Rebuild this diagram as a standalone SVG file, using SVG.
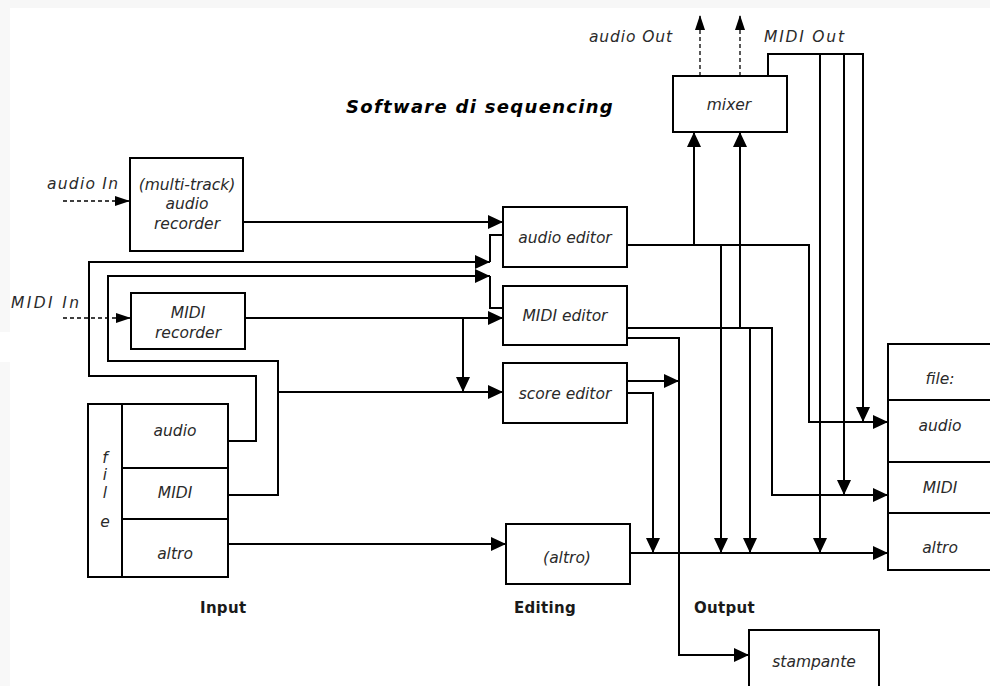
<svg xmlns="http://www.w3.org/2000/svg" width="990" height="686" viewBox="0 0 990 686">
  <style>
    .box { fill: #fff; stroke: #000; stroke-width: 2; }
    .div { stroke: #000; stroke-width: 2; fill: none; }
    .wire { stroke: #000; stroke-width: 2; fill: none; }
    .dash { stroke: #000; stroke-width: 1.3; fill: none; stroke-dasharray: 4 3; }
    .lbl { font-family: "DejaVu Sans", Verdana, sans-serif; font-style: italic; font-size: 15.5px; fill: #2a2a2a; }
    .lblc { text-anchor: middle; }
    .sec { font-family: "DejaVu Sans", Verdana, sans-serif; font-weight: bold; font-size: 15px; letter-spacing: 0.3px; fill: #1a1a1a; }
    .title { font-family: "DejaVu Sans", Verdana, sans-serif; font-weight: bold; font-style: italic; font-size: 18px; letter-spacing: 1.3px; fill: #000; }
  </style>
  <defs>
    <marker id="arr" markerUnits="userSpaceOnUse" markerWidth="15" markerHeight="14" refX="15" refY="7" orient="auto">
      <path d="M0,0 L15,7 L0,14 Z" fill="#000"/>
    </marker>
    <marker id="arrS" markerUnits="userSpaceOnUse" markerWidth="15" markerHeight="10" refX="15" refY="5" orient="auto">
      <path d="M0,0 L15,5 L0,10 Z" fill="#000"/>
    </marker>
  </defs>

  <!-- page background with faint outer band -->
  <rect x="0" y="0" width="990" height="686" fill="#fff"/>
  <rect x="0" y="0" width="990" height="8" fill="#f7f7f7"/>
  <rect x="0" y="0" width="10" height="332" fill="#f8f8f8"/>
  <rect x="0" y="362" width="10" height="324" fill="#f8f8f8"/>

  <text class="title" x="346" y="113">Software di sequencing</text>

  <!-- connectors -->
  <g id="connectors">
    <!-- external inputs -->
    <path class="dash" d="M63,201 H130" marker-end="url(#arrS)"/>
    <path class="dash" d="M63,318 H131" marker-end="url(#arrS)"/>
    <!-- recorders to editors -->
    <path class="wire" d="M243,222 H503" marker-end="url(#arr)"/>
    <path class="wire" d="M245,318 H503" marker-end="url(#arr)"/>
    <path class="wire" d="M463,318 V392" marker-end="url(#arr)"/>
    <!-- input files to editors -->
    <path class="wire" d="M228,441 H256 V376 H89 V262 H490" marker-end="url(#arr)"/>
    <path class="wire" d="M228,495 H278 V361 H108 V276 H490" marker-end="url(#arr)"/>
    <path class="wire" d="M278,392 H503" marker-end="url(#arr)"/>
    <path class="wire" d="M228,544 H506" marker-end="url(#arr)"/>
    <!-- bracket into audio / MIDI editor -->
    <path class="wire" d="M490,262 V235 H503"/>
    <path class="wire" d="M490,276 V308 H503"/>
    <!-- audio editor outputs -->
    <path class="wire" d="M627,245 H809 V422 H888" marker-end="url(#arr)"/>
    <path class="wire" d="M694,245 V132" marker-end="url(#arr)"/>
    <path class="wire" d="M721,245 V553" marker-end="url(#arr)"/>
    <!-- MIDI editor outputs -->
    <path class="wire" d="M627,328 H772 V495 H888" marker-end="url(#arr)"/>
    <path class="wire" d="M740,328 V132" marker-end="url(#arr)"/>
    <path class="wire" d="M750,328 V553" marker-end="url(#arr)"/>
    <path class="wire" d="M627,338 H679 V655 H749" marker-end="url(#arr)"/>
    <!-- score editor outputs -->
    <path class="wire" d="M627,381 H679" marker-end="url(#arr)"/>
    <path class="wire" d="M627,393 H653 V553" marker-end="url(#arr)"/>
    <!-- (altro) output -->
    <path class="wire" d="M630,553 H888" marker-end="url(#arr)"/>
    <!-- mixer MIDI out bus -->
    <path class="wire" d="M768,76 V54 H863 V422" marker-end="url(#arr)"/>
    <path class="wire" d="M844,54 V495" marker-end="url(#arr)"/>
    <path class="wire" d="M820,54 V553" marker-end="url(#arr)"/>
    <!-- mixer audio outs -->
    <path class="dash" d="M700,76 V15" marker-end="url(#arrS)"/>
    <path class="dash" d="M740,76 V15" marker-end="url(#arrS)"/>
  </g>

  <text class="lbl" x="47" y="189" textLength="71">audio In</text>
  <text class="lbl" x="11" y="308" textLength="68">MIDI In</text>
  <text class="lbl" x="589" y="42" textLength="83">audio Out</text>
  <text class="lbl" x="764" y="42" textLength="80">MIDI Out</text>

  <g id="audio-recorder">
    <rect class="box" x="130" y="158" width="113" height="93"/>
    <text class="lbl lblc" x="187" y="190" font-size="13.5">(multi-track)</text>
    <text class="lbl lblc" x="187" y="209">audio</text>
    <text class="lbl lblc" x="187" y="229">recorder</text>
  </g>

  <g id="midi-recorder">
    <rect class="box" x="131" y="293" width="114" height="56"/>
    <text class="lbl lblc" x="188" y="318">MIDI</text>
    <text class="lbl lblc" x="188" y="338">recorder</text>
  </g>

  <g id="input-file">
    <rect class="box" x="88" y="404" width="140" height="173"/>
    <path class="div" d="M122,404 V577 M122,468 H228 M122,519 H228"/>
    <text class="lbl lblc" x="105" y="463">f</text>
    <text class="lbl lblc" x="105" y="480">i</text>
    <text class="lbl lblc" x="105" y="498">l</text>
    <text class="lbl lblc" x="105" y="527">e</text>
    <text class="lbl lblc" x="175" y="436">audio</text>
    <text class="lbl lblc" x="175" y="498">MIDI</text>
    <text class="lbl lblc" x="175" y="559">altro</text>
  </g>

  <g id="audio-editor">
    <rect class="box" x="503" y="207" width="124" height="60"/>
    <text class="lbl lblc" x="565" y="243">audio editor</text>
  </g>

  <g id="midi-editor">
    <rect class="box" x="503" y="286" width="124" height="59"/>
    <text class="lbl lblc" x="565" y="321">MIDI editor</text>
  </g>

  <g id="score-editor">
    <rect class="box" x="503" y="363" width="124" height="60"/>
    <text class="lbl lblc" x="565" y="399">score editor</text>
  </g>

  <g id="altro-editor">
    <rect class="box" x="506" y="524" width="124" height="60"/>
    <text class="lbl lblc" x="567" y="563">(altro)</text>
  </g>

  <g id="mixer">
    <rect class="box" x="673" y="76" width="114" height="56"/>
    <text class="lbl lblc" x="729" y="110">mixer</text>
  </g>

  <g id="output-file">
    <rect class="box" x="888" y="344" width="112" height="226"/>
    <path class="div" d="M888,400 H1000 M888,462 H1000 M888,513 H1000"/>
    <text class="lbl lblc" x="940" y="384">file:</text>
    <text class="lbl lblc" x="940" y="431">audio</text>
    <text class="lbl lblc" x="940" y="493">MIDI</text>
    <text class="lbl lblc" x="940" y="553">altro</text>
  </g>

  <g id="stampante">
    <rect class="box" x="749" y="630" width="130" height="70"/>
    <text class="lbl lblc" x="814" y="667">stampante</text>
  </g>

  <text class="sec" x="200" y="613">Input</text>
  <text class="sec" x="514" y="613">Editing</text>
  <text class="sec" x="694" y="613">Output</text>
</svg>
